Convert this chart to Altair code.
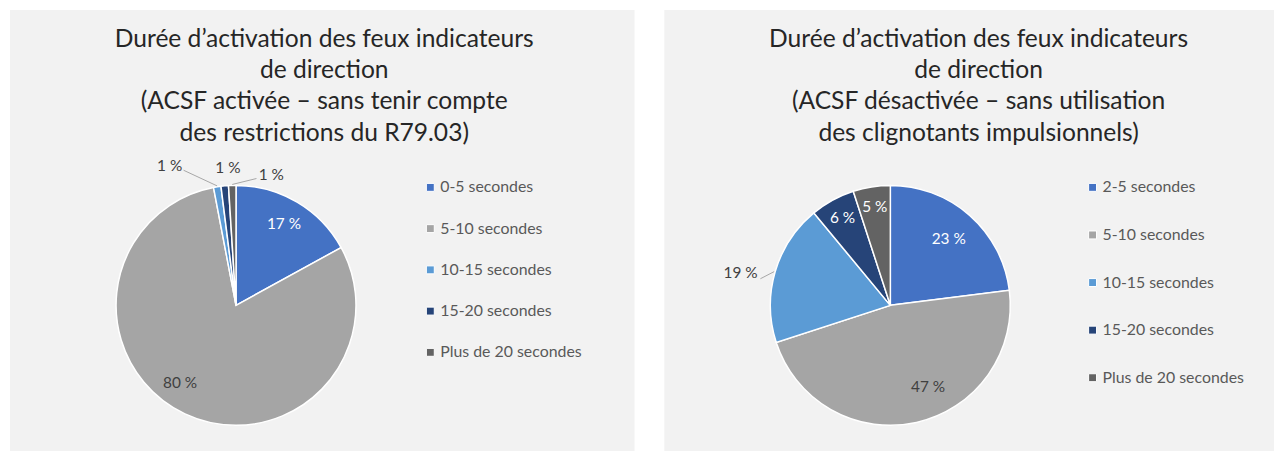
import altair as alt
import pandas as pd

# ---------------- data ----------------
left_categories = ["0-5 secondes", "5-10 secondes", "10-15 secondes", "15-20 secondes", "Plus de 20 secondes"]
left_values = [17, 80, 1, 1, 1]
right_categories = ["2-5 secondes", "5-10 secondes", "10-15 secondes", "15-20 secondes", "Plus de 20 secondes"]
right_values = [23, 47, 19, 6, 5]
slice_colors = ["#4472C4", "#A5A5A5", "#5B9BD5", "#264478", "#636363"]
left_title = ["Durée d’activation des feux indicateurs", "de direction",
              "(ACSF activée – sans tenir compte", "des  restrictions du R79.03)"]
right_title = ["Durée d’activation des feux indicateurs", "de direction",
               "(ACSF désactivée – sans utilisation", "des clignotants impulsionnels)"]

# ---------------- style ----------------
FONT = "Lato"
CX, CY, R = 228, 298, 121
WHITE, DARK = "#FFFFFF", "#404040"

# label placement: (index, radius, colour, dx, dy, leader-line start offset)
left_labels = [
    (0, 95, WHITE, 0, 0, None),
    (1, 95, DARK, -16, -8, None),
    (2, 140, DARK, -45, -2, (14, 4)),
    (3, 140, DARK, 5, 1, None),
    (4, 140, DARK, 40, 8, (-15, 4)),
]
right_labels = [
    (0, 89, WHITE, 0, 0, None),
    (1, 92, DARK, 18, -7, None),
    (2, 150, DARK, -7, 9, (20, 6)),
    (3, 100, WHITE, 0, 0, None),
    (4, 100, WHITE, 0, 0, None),
]


def panel(categories, values, title_lines, labels, width, legend_x, row_padding):
    total = sum(values)
    df = pd.DataFrame({"cat": categories, "value": values, "idx": list(range(len(values)))})
    df["label"] = [f"{v} %" for v in values]
    base = alt.Chart(df)
    theta_scale = alt.Scale(domain=[0, total])

    color = alt.Color(
        "cat:N",
        sort=categories,
        scale=alt.Scale(domain=categories, range=slice_colors),
        legend=alt.Legend(
            orient="none", legendX=legend_x, legendY=171, title=None,
            symbolType="square", symbolSize=64, symbolStrokeColor="white",
            symbolStrokeWidth=1, labelFont=FONT, labelFontSize=16,
            labelColor="#595959", rowPadding=row_padding, labelLimit=300,
            labelOffset=2,
        ),
    )
    arcs = base.mark_arc(outerRadius=R, stroke="white", strokeWidth=1.5).encode(
        theta=alt.Theta("value:Q", stack=True, scale=theta_scale),
        color=color,
        order=alt.Order("idx:Q"),
        x=alt.value(CX),
        y=alt.value(CY),
    )

    cum = base.transform_window(
        cum="sum(value)", sort=[alt.SortField("idx")], frame=[None, 0]
    ).transform_calculate(
        mid="datum.cum - datum.value / 2",
        ang=f"(datum.cum - datum.value / 2) / {total} * 2 * PI",
    )

    layers = [arcs]
    for (i, rad, col, dx, dy, lead) in labels:
        sel = cum.transform_filter(f"datum.idx == {i}")
        layers.append(
            sel.mark_text(radius=rad, dx=dx, dy=dy, color=col, font=FONT, fontSize=15.5,
                          align="center", baseline="middle").encode(
                theta=alt.Theta("mid:Q", scale=theta_scale),
                text="label:N",
                x=alt.value(CX),
                y=alt.value(CY),
            )
        )
        if lead:
            ox, oy = lead
            line = sel.transform_calculate(
                lx=f"{CX} + {rad} * sin(datum.ang) + {dx + ox}",
                ly=f"{CY} - {rad} * cos(datum.ang) + {dy + oy}",
                ex=f"{CX} + {R + 1} * sin(datum.ang)",
                ey=f"{CY} - {R + 1} * cos(datum.ang)",
            )
            layers.append(
                line.mark_rule(color="#A6A6A6", strokeWidth=1).encode(
                    x=alt.X("lx:Q", scale=None, axis=None),
                    y=alt.Y("ly:Q", scale=None, axis=None),
                    x2="ex:Q",
                    y2="ey:Q",
                )
            )

    title = alt.Chart(pd.DataFrame({"t": [0]})).mark_text(
        font=FONT, fontSize=24.8, color="#262626", lineHeight=31.7,
        align="center", baseline="alphabetic",
    ).encode(x=alt.value(317), y=alt.value(37), text=alt.value(title_lines))
    layers.append(title)

    return alt.layer(*layers).properties(width=width, height=445)


left = panel(left_categories, left_values, left_title, left_labels, 630, 416, 25.6)
right = panel(right_categories, right_values, right_title, right_labels, 615, 424, 32)

chart = alt.hconcat(left, right, spacing=30).resolve_scale(
    color="independent", theta="independent"
).properties(
    padding={"left": 2, "top": 0, "right": 0, "bottom": 0},
    background="white",
).configure_view(stroke=None, fill="#F2F2F2")

chart.save("out.html", embed_options={"renderer": "svg", "actions": False})
